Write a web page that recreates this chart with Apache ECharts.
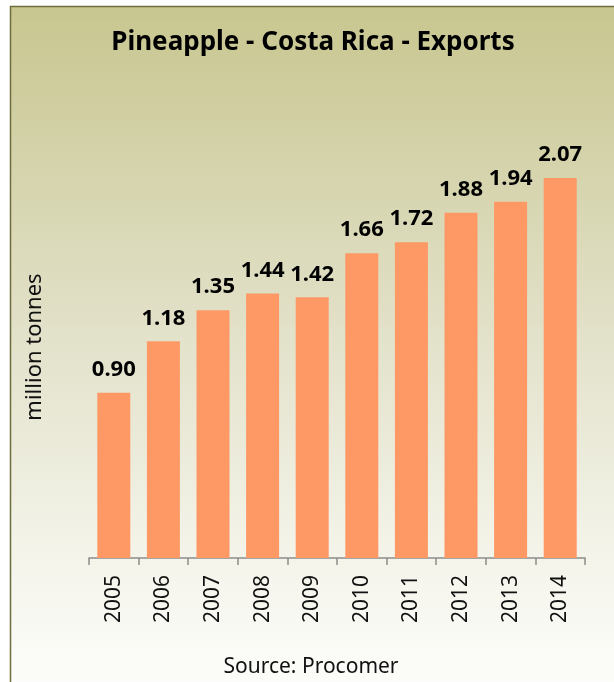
<!DOCTYPE html>
<html><head><meta charset="utf-8">
<script src="https://cdn.jsdelivr.net/npm/echarts@6/dist/echarts.min.js"></script>
<style>html,body{margin:0;padding:0;background:#fff}#c{width:614px;height:682px}</style>
</head><body><div id="c"></div>
<script>
const years = ['2005','2006','2007','2008','2009','2010','2011','2012','2013','2014'];
const exportsMt = [0.90, 1.18, 1.35, 1.44, 1.42, 1.66, 1.72, 1.88, 1.94, 2.07];
const titleText = 'Pineapple - Costa Rica - Exports';
const yName = 'million tonnes';
const sourceText = 'Source: Procomer';

const chart = echarts.init(document.getElementById('c'), null, {renderer:'canvas'});
const font = 'Noto Sans';
chart.setOption({
  backgroundColor: '#ffffff',
  animation: false,
  graphic: [
    { type: 'rect', z: -10, shape: { x: 10.5, y: 6.5, width: 640, height: 720 },
      style: { fill: new echarts.graphic.LinearGradient(0,0,0,1,[
        {offset:0,color:'#c8c68f'},{offset:0.45,color:'#e2e1c9'},{offset:0.8,color:'#f6f6ee'},{offset:1,color:'#ffffff'}]),
        stroke: '#6e6e3c', lineWidth: 1.5 } },
    { type: 'text', x: 313, y: 43, style: { text: titleText, fontSize: 26, fontWeight: 'bold', fontFamily: font, fill: '#000', align: 'center', verticalAlign: 'middle' } },
    { type: 'text', x: 311, y: 667, style: { text: sourceText, fontSize: 21, fontFamily: font, fill: '#111', align: 'center', verticalAlign: 'middle' } },
    { type: 'text', x: 35, y: 347, rotation: Math.PI/2, style: { text: yName, fontSize: 22, fontFamily: font, fill: '#111', align: 'center', verticalAlign: 'middle' } }
  ],
  grid: { left: 89, right: 29, top: 99, bottom: 124 },
  xAxis: {
    type: 'category', data: years,
    axisLine: { lineStyle: { color: '#8c8c8c', width: 1.5 } },
    axisTick: { show: true, length: 7, lineStyle: { color: '#8c8c8c', width: 1.5 } },
    axisLabel: { rotate: 90, fontSize: 21, color: '#111', fontFamily: font, margin: 17 }
  },
  yAxis: { type: 'value', min: 0, max: 2.5, show: false, splitLine: { show: false } },
  series: [{
    type: 'bar', data: exportsMt, barWidth: 33,
    itemStyle: { color: '#fe9966' },
    label: { show: true, position: 'top', distance: 12, formatter: p => p.value.toFixed(2),
      fontSize: 22, fontWeight: 'bold', color: '#000', fontFamily: font }
  }]
});
</script></body></html>
